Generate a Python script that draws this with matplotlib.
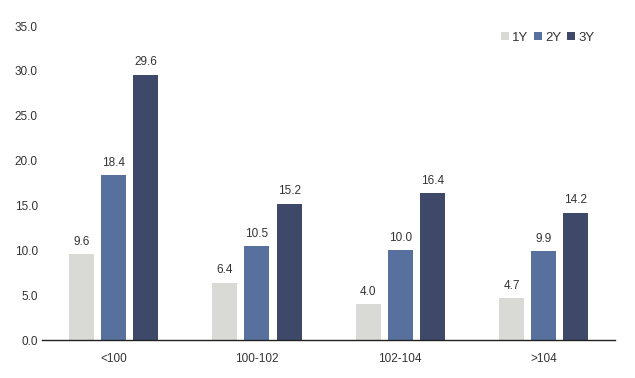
import numpy as np
import matplotlib
matplotlib.use('Agg')
import matplotlib.pyplot as plt

plt.rcParams['font.family'] = ['Liberation Sans', 'DejaVu Sans']

categories = ['<100', '100-102', '102-104', '>104']
series_names = ['1Y', '2Y', '3Y']
y1 = [9.6, 6.4, 4.0, 4.7]
y2 = [18.4, 10.5, 10.0, 9.9]
y3 = [29.6, 15.2, 16.4, 14.2]
colors = ['#d9d9d5', '#58709e', '#3e4868']

fig = plt.figure(figsize=(6.35, 3.78), dpi=100)
ax = fig.add_axes([0.066, 0.1005, 0.903, 0.8305])

x = np.arange(len(categories))
w = 0.175
off = 0.224
for i, (vals, name) in enumerate(zip([y1, y2, y3], series_names)):
    bars = ax.bar(x + (i - 1) * off, vals, width=w, color=colors[i], label=name)
    for b, v in zip(bars, vals):
        ax.text(b.get_x() + b.get_width() / 2, v + 0.7, f'{v:.1f}',
                ha='center', va='bottom', fontsize=8.5, color='#333333')

ax.set_xlim(-0.5, 3.5)
ax.set_ylim(0, 35)
ax.set_yticks(np.arange(0, 35.1, 5))
ax.set_yticklabels([f'{t:.1f}' for t in np.arange(0, 35.1, 5)])
ax.set_xticks(x)
ax.set_xticklabels(categories)
ax.tick_params(axis='both', labelsize=8.5, colors='#333333', length=0)
ax.tick_params(axis='y', pad=3)
ax.tick_params(axis='x', pad=9)
for s in ['top', 'right', 'left']:
    ax.spines[s].set_visible(False)
ax.spines['bottom'].set_color('#222222')
ax.spines['bottom'].set_linewidth(1.0)

ax.legend(loc='upper right', bbox_to_anchor=(0.985, 1.02), ncol=3, frameon=False,
          fontsize=9.5, handlelength=0.6, handleheight=0.6, handletextpad=0.25,
          columnspacing=0.45, labelcolor='#333333')

fig.savefig('out.png', dpi=100)
